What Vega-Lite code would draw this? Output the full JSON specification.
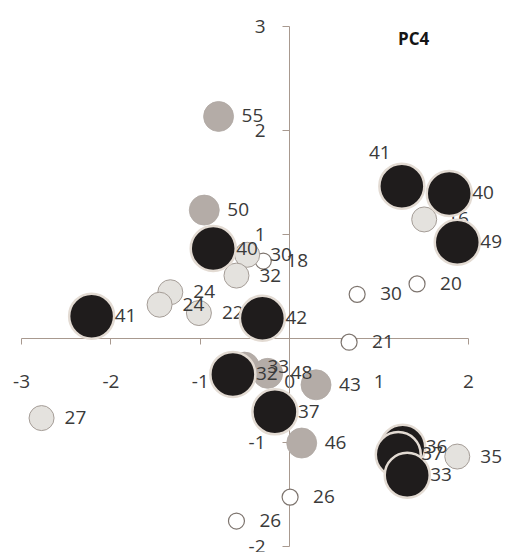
{
  "$schema": "https://vega.github.io/schema/vega-lite/v6.json",
  "width": 447,
  "height": 520,
  "autosize": {"type": "none"},
  "padding": {"left": 21, "top": 26, "right": 39, "bottom": 6},
  "background": "white",
  "config": {"view": {"stroke": null}, "font": "Open Sans"},
  "title": {
    "text": "PC4",
    "anchor": "start",
    "frame": "group",
    "orient": "top",
    "offset": 0,
    "baseline": "middle",
    "dx": 377,
    "dy": 40,
    "fontSize": 17,
    "fontWeight": "bold",
    "color": "#151515",
    "font": "Open Sans"
  },
  "data": {
    "values": [
      {"label": "18", "x": -0.29, "y": 0.74, "group": "g1"},
      {"label": "30", "x": 0.76, "y": 0.42, "group": "g1"},
      {"label": "20", "x": 1.43, "y": 0.52, "group": "g1"},
      {"label": "21", "x": 0.67, "y": -0.04, "group": "g1"},
      {"label": "26", "x": 0.01, "y": -1.53, "group": "g1"},
      {"label": "26", "x": -0.59, "y": -1.76, "group": "g1"},
      {"label": "30", "x": -0.47, "y": 0.8, "group": "g2"},
      {"label": "32", "x": -0.59, "y": 0.6, "group": "g2"},
      {"label": "24", "x": -1.33, "y": 0.44, "group": "g2"},
      {"label": "24", "x": -1.45, "y": 0.32, "group": "g2"},
      {"label": "22", "x": -1.01, "y": 0.24, "group": "g2"},
      {"label": "27", "x": -2.77, "y": -0.77, "group": "g2"},
      {"label": "16", "x": 1.51, "y": 1.14, "group": "g2"},
      {"label": "35", "x": 1.88, "y": -1.14, "group": "g2"},
      {"label": "55", "x": -0.79, "y": 2.13, "group": "g3"},
      {"label": "50", "x": -0.95, "y": 1.23, "group": "g3"},
      {"label": "33", "x": -0.5, "y": -0.28, "group": "g3"},
      {"label": "48", "x": -0.24, "y": -0.34, "group": "g3"},
      {"label": "43", "x": 0.3, "y": -0.45, "group": "g3"},
      {"label": "46", "x": 0.14, "y": -1.01, "group": "g3"},
      {"label": "41", "x": -2.21, "y": 0.21, "group": "g4"},
      {"label": "40", "x": -0.85, "y": 0.86, "group": "g4"},
      {"label": "42", "x": -0.3, "y": 0.19, "group": "g4"},
      {"label": "32", "x": -0.63, "y": -0.35, "group": "g4"},
      {"label": "37", "x": -0.16, "y": -0.71, "group": "g4"},
      {"label": "41", "x": 1.26, "y": 1.46, "group": "g4"},
      {"label": "40", "x": 1.79, "y": 1.39, "group": "g4"},
      {"label": "49", "x": 1.88, "y": 0.92, "group": "g4"},
      {"label": "36", "x": 1.27, "y": -1.05, "group": "g4"},
      {"label": "37", "x": 1.22, "y": -1.12, "group": "g4"},
      {"label": "33", "x": 1.32, "y": -1.32, "group": "g4"}
    ]
  },
  "encoding": {
    "x": {
      "field": "x",
      "type": "quantitative",
      "scale": {"domain": [-3, 2], "nice": false, "zero": false},
      "axis": {
        "orient": "bottom",
        "offset": -208,
        "values": [-3, -2, -1, 0, 1, 2],
        "labelExpr": "'' + datum.value",
        "title": null,
        "grid": false,
        "domainColor": "#a8998f",
        "tickColor": "#a8998f",
        "tickSize": 6,
        "labelPadding": 37,
        "labelBaseline": "middle",
        "labelFontSize": 19,
        "labelFont": "Open Sans",
        "labelColor": "#3a3a3a",
        "labelFlush": false,
        "labelOverlap": false,
        "labelBound": false
      }
    },
    "y": {
      "field": "y",
      "type": "quantitative",
      "scale": {"domain": [-2, 3], "nice": false, "zero": false},
      "axis": {
        "orient": "left",
        "offset": -268,
        "values": [-2, -1, 1, 2, 3],
        "labelExpr": "'' + datum.value",
        "title": null,
        "grid": false,
        "domainColor": "#a8998f",
        "tickColor": "#a8998f",
        "tickSize": 7,
        "labelPadding": 17,
        "labelFontSize": 19,
        "labelFont": "Open Sans",
        "labelColor": "#3a3a3a",
        "labelFlush": false,
        "labelOverlap": false,
        "labelBound": false
      }
    },
    "fill": {
      "field": "group",
      "type": "nominal",
      "scale": {"domain": ["g1", "g2", "g3", "g4"], "range": ["#ffffff", "#e4e2de", "#b4aca7", "#1f1c1c"]},
      "legend": null
    }
  },
  "layer": [
    {
      "transform": [{"filter": "datum.group == 'g1'"}],
      "mark": {"type": "circle", "opacity": 1, "size": 256, "stroke": "#7d746e", "strokeWidth": 1.2}
    },
    {
      "transform": [{"filter": "datum.group == 'g1'"}],
      "mark": {"type": "text", "align": "left", "baseline": "middle", "dx": 23, "fontSize": 19, "font": "Open Sans"},
      "encoding": {"text": {"field": "label"}, "fill": {"value": "#3a3a3a"}}
    },
    {
      "transform": [{"filter": "datum.group == 'g2'"}],
      "mark": {"type": "circle", "opacity": 1, "size": 625, "stroke": "#a59d97", "strokeWidth": 1}
    },
    {
      "transform": [{"filter": "datum.group == 'g2'"}],
      "mark": {"type": "text", "align": "left", "baseline": "middle", "dx": 23, "fontSize": 19, "font": "Open Sans"},
      "encoding": {"text": {"field": "label"}, "fill": {"value": "#3a3a3a"}}
    },
    {
      "transform": [{"filter": "datum.group == 'g3'"}],
      "mark": {"type": "circle", "opacity": 1, "size": 900, "stroke": "#b0a8a3", "strokeWidth": 0.8}
    },
    {
      "transform": [{"filter": "datum.group == 'g3'"}],
      "mark": {"type": "text", "align": "left", "baseline": "middle", "dx": 23, "fontSize": 19, "font": "Open Sans"},
      "encoding": {"text": {"field": "label"}, "fill": {"value": "#3a3a3a"}}
    },
    {
      "transform": [{"filter": "datum.group == 'g4'"}],
      "mark": {"type": "circle", "opacity": 1, "size": 2025, "stroke": "#e3dbd3", "strokeWidth": 2.5}
    },
    {
      "transform": [{"filter": "datum.group == 'g4' && !(datum.label == '41' && datum.x > 0)"}],
      "mark": {"type": "text", "align": "left", "baseline": "middle", "dx": 23, "fontSize": 19, "font": "Open Sans"},
      "encoding": {"text": {"field": "label"}, "fill": {"value": "#3a3a3a"}}
    },
    {
      "transform": [{"filter": "datum.group == 'g4' && datum.label == '41' && datum.x > 0"}],
      "mark": {"type": "text", "align": "center", "baseline": "middle", "dx": -22, "dy": -33, "fontSize": 19, "font": "Open Sans"},
      "encoding": {"text": {"field": "label"}, "fill": {"value": "#3a3a3a"}}
    }
  ]
}
